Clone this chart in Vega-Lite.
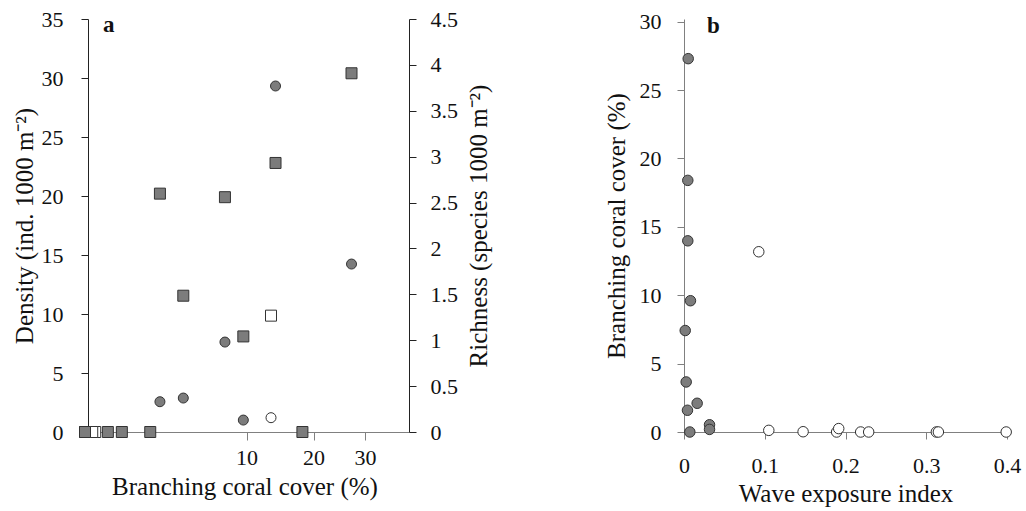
{
  "$schema": "https://vega.github.io/schema/vega-lite/v6.json",
  "background": "white",
  "padding": {"left": 12, "top": 8, "right": 5, "bottom": 5},
  "spacing": 112,
  "config": {
    "view": {"stroke": null},
    "font": "Liberation Serif",
    "axis": {
      "labelFont": "Liberation Serif",
      "titleFont": "Liberation Serif",
      "labelFontSize": 22,
      "titleFontSize": 25,
      "titleFontWeight": "normal",
      "labelColor": "#111",
      "titleColor": "#111",
      "grid": false,
      "tickSize": 7,
      "labelFlush": false,
      "labelOverlap": false
    },
    "title": {"font": "Liberation Serif", "fontSize": 23, "fontWeight": "bold", "color": "#111"}
  },
  "datasets": {
    "panelA": [
      {"site": "open", "cover": 0.01, "density": 0, "richness": 0},
      {"site": "open", "cover": 0.04, "density": 0, "richness": 0},
      {"site": "open", "cover": 0.02, "density": 0, "richness": 0},
      {"site": "open", "cover": 0, "density": 0, "richness": 0},
      {"site": "open", "cover": 13.25, "density": 9.86, "richness": 0.156},
      {"site": "filled", "cover": 27.2, "density": 30.4, "richness": 1.83},
      {"site": "filled", "cover": 18.1, "density": 0, "richness": 0},
      {"site": "filled", "cover": 13.9, "density": 22.8, "richness": 3.77},
      {"site": "filled", "cover": 9.6, "density": 8.1, "richness": 0.13},
      {"site": "filled", "cover": 7.5, "density": 19.9, "richness": 0.98},
      {"site": "filled", "cover": 3.7, "density": 11.55, "richness": 0.37},
      {"site": "filled", "cover": 2.15, "density": 20.2, "richness": 0.33},
      {"site": "filled", "cover": 1.63, "density": 0, "richness": 0},
      {"site": "filled", "cover": 0.52, "density": 0, "richness": 0},
      {"site": "filled", "cover": 0.2, "density": 0, "richness": 0},
      {"site": "filled", "cover": 0, "density": 0, "richness": 0}
    ],
    "panelB": [
      {"site": "filled", "exposure": 0.0052, "cover": 27.3},
      {"site": "filled", "exposure": 0.0047, "cover": 18.4},
      {"site": "filled", "exposure": 0.0047, "cover": 13.98},
      {"site": "filled", "exposure": 0.008, "cover": 9.6},
      {"site": "filled", "exposure": 0.0015, "cover": 7.42},
      {"site": "filled", "exposure": 0.0027, "cover": 3.66},
      {"site": "filled", "exposure": 0.0043, "cover": 1.59},
      {"site": "filled", "exposure": 0.0163, "cover": 2.1},
      {"site": "filled", "exposure": 0.0316, "cover": 0.53},
      {"site": "filled", "exposure": 0.0316, "cover": 0.19},
      {"site": "filled", "exposure": 0.0072, "cover": 0},
      {"site": "open", "exposure": 0.0926, "cover": 13.18},
      {"site": "open", "exposure": 0.105, "cover": 0.12},
      {"site": "open", "exposure": 0.1475, "cover": 0.02},
      {"site": "open", "exposure": 0.189, "cover": 0},
      {"site": "open", "exposure": 0.1916, "cover": 0.25},
      {"site": "open", "exposure": 0.2188, "cover": 0},
      {"site": "open", "exposure": 0.2287, "cover": 0},
      {"site": "open", "exposure": 0.3125, "cover": 0},
      {"site": "open", "exposure": 0.315, "cover": 0},
      {"site": "open", "exposure": 0.399, "cover": 0}
    ]
  },
  "hconcat": [
    {
      "width": 329,
      "height": 413,
      "title": {"text": "a", "anchor": "start", "frame": "group", "offset": -29, "dx": 23},
      "data": {"name": "panelA"},
      "layer": [
        {
          "mark": {"type": "point", "shape": "circle", "filled": true, "size": 100, "opacity": 1, "stroke": "#333", "strokeWidth": 1},
          "encoding": {
            "x": {"field": "cover", "type": "quantitative",
              "scale": {"type": "sqrt", "domain": [-0.0096, 40.2], "nice": false, "zero": false},
              "axis": {"title": "Branching coral cover (%)", "values": [10, 20, 30], "domainColor": "#808080", "tickColor": "#808080", "tickSize": 8, "labelPadding": 7, "titlePadding": 6}},
            "y": {"field": "richness", "type": "quantitative",
              "scale": {"domain": [0, 4.5], "nice": false, "zero": false},
              "axis": {"orient": "right", "title": "Richness (species 1000 m⁻²)", "values": [0, 0.5, 1, 1.5, 2, 2.5, 3, 3.5, 4, 4.5], "format": "~g", "domainColor": "#222", "tickColor": "#222", "labelPadding": 14, "titlePadding": 9, "titleAngle": 270, "titleBaseline": "top"}},
            "fill": {"field": "site", "type": "nominal", "scale": {"domain": ["filled", "open"], "range": ["#7c7c7c", "#ffffff"]}, "legend": null}
          }
        },
        {
          "mark": {"type": "point", "shape": "square", "filled": true, "size": 121, "opacity": 1, "stroke": "#333", "strokeWidth": 1},
          "encoding": {
            "x": {"field": "cover", "type": "quantitative"},
            "y": {"field": "density", "type": "quantitative",
              "scale": {"domain": [0, 35], "nice": false, "zero": false},
              "axis": {"orient": "left", "title": "Density (ind. 1000 m⁻²)", "values": [0, 5, 10, 15, 20, 25, 30, 35], "offset": -8, "domainColor": "#222", "tickColor": "#222", "labelPadding": 18, "titlePadding": 4}},
            "fill": {"field": "site", "type": "nominal", "scale": {"domain": ["filled", "open"], "range": ["#7c7c7c", "#ffffff"]}, "legend": null}
          }
        }
      ],
      "resolve": {"scale": {"y": "independent"}}
    },
    {
      "width": 323,
      "height": 413,
      "title": {"text": "b", "anchor": "start", "frame": "group", "offset": -27, "dx": 23},
      "data": {"name": "panelB"},
      "mark": {"type": "point", "shape": "circle", "filled": true, "size": 110, "opacity": 1, "stroke": "#333", "strokeWidth": 1},
      "encoding": {
        "x": {"field": "exposure", "type": "quantitative",
          "scale": {"domain": [0, 0.4], "nice": false, "zero": false},
          "axis": {"title": "Wave exposure index", "values": [0, 0.1, 0.2, 0.3, 0.4], "format": "~g", "domainColor": "#808080", "tickColor": "#808080", "labelPadding": 16, "titlePadding": 5}},
        "y": {"field": "cover", "type": "quantitative",
          "scale": {"domain": [0, 30.2], "nice": false, "zero": false},
          "axis": {"title": "Branching coral cover (%)", "values": [0, 5, 10, 15, 20, 25, 30], "domainColor": "#808080", "tickColor": "#808080", "labelPadding": 16, "titlePadding": 10}},
        "fill": {"field": "site", "type": "nominal", "scale": {"domain": ["filled", "open"], "range": ["#7c7c7c", "#ffffff"]}, "legend": null}
      }
    }
  ]
}
